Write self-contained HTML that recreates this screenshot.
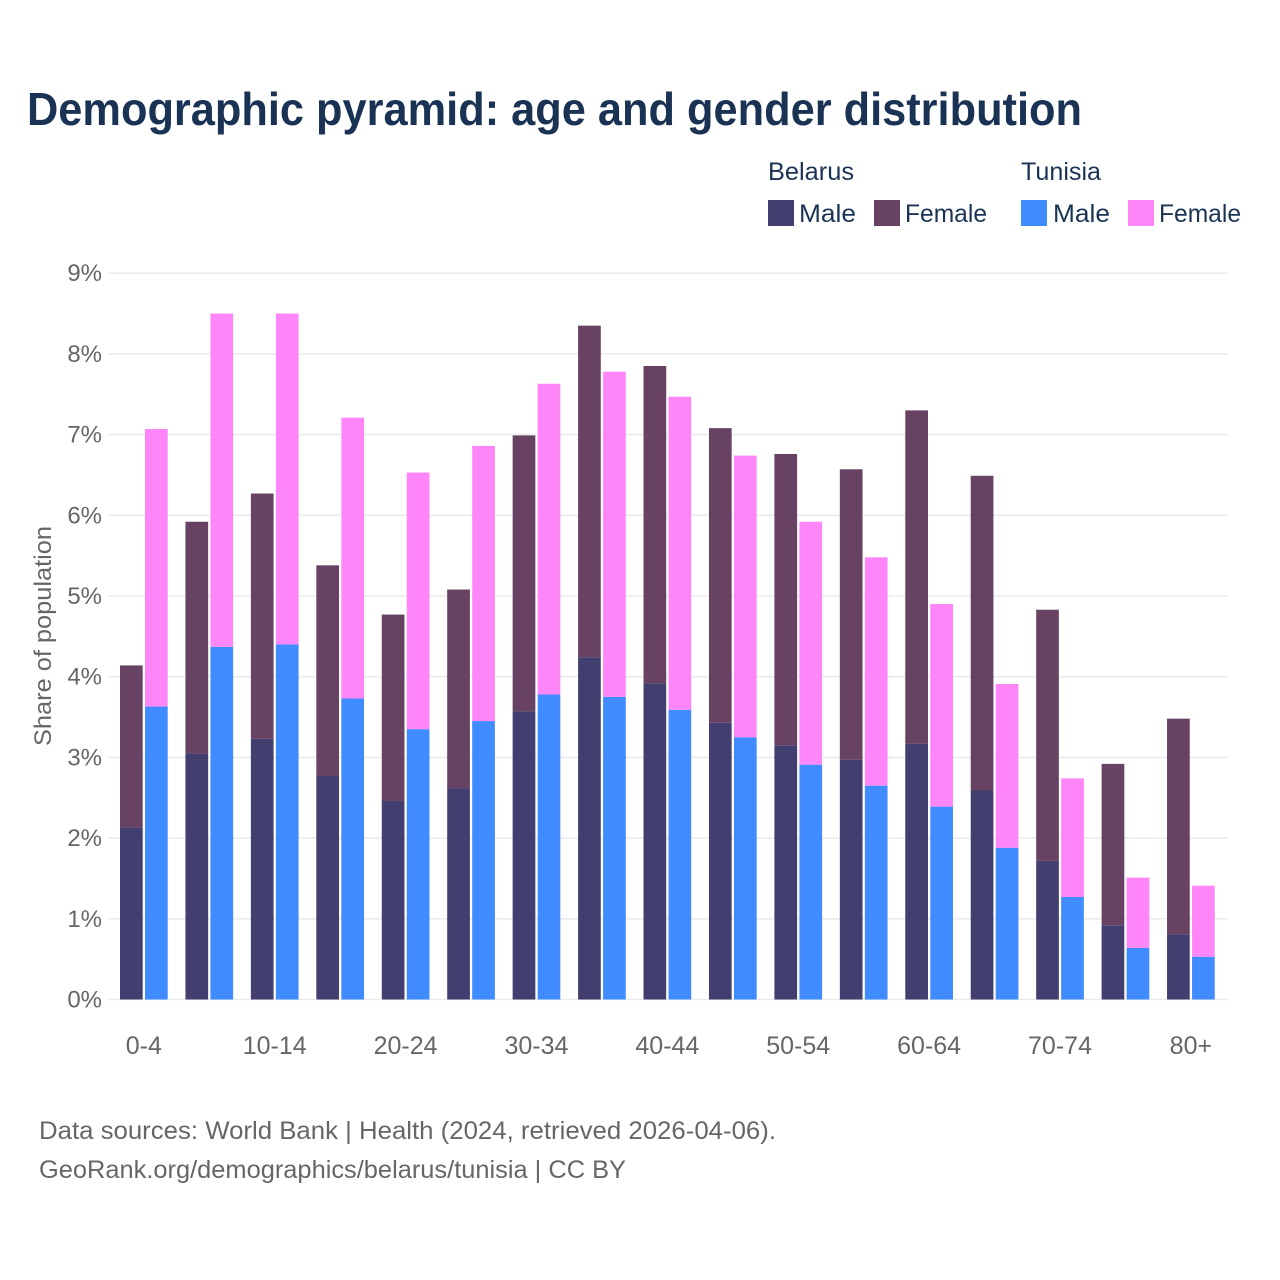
<!DOCTYPE html>
<html lang="en">
<head>
<meta charset="utf-8">
<title>Demographic pyramid</title>
<style>
  html,body{margin:0;padding:0;background:#fff;}
  svg{display:block;font-family:"Liberation Sans",sans-serif;}
</style>
</head>
<body>
<svg id="chart" xmlns="http://www.w3.org/2000/svg" width="1280" height="1280" viewBox="0 0 1280 1280">
  <rect x="0" y="0" width="1280" height="1280" fill="#ffffff"/>
  <text x="27" y="125" font-size="46" font-weight="700" fill="#1a3355" textLength="1055" lengthAdjust="spacingAndGlyphs">Demographic pyramid: age and gender distribution</text>

  <g font-size="25" fill="#1a3355">
    <text x="768" y="180" textLength="86" lengthAdjust="spacingAndGlyphs">Belarus</text>
    <text x="1021" y="180" textLength="80" lengthAdjust="spacingAndGlyphs">Tunisia</text>
    <rect x="768" y="200" width="26" height="26" fill="#433e70"/>
    <text x="799" y="222" textLength="57" lengthAdjust="spacingAndGlyphs">Male</text>
    <rect x="874" y="200" width="26" height="26" fill="#674262"/>
    <text x="905" y="222" textLength="82" lengthAdjust="spacingAndGlyphs">Female</text>
    <rect x="1021" y="200" width="26" height="26" fill="#3f8bff"/>
    <text x="1053" y="222" textLength="57" lengthAdjust="spacingAndGlyphs">Male</text>
    <rect x="1128" y="200" width="26" height="26" fill="#ff86f9"/>
    <text x="1159" y="222" textLength="82" lengthAdjust="spacingAndGlyphs">Female</text>
  </g>

  <g id="grid"></g>
  <g id="y-ticks"></g>
  <g id="bars"></g>
  <g id="x-ticks"></g>

  <text transform="translate(51,636) rotate(-90)" text-anchor="middle" font-size="24" fill="#666666" textLength="220" lengthAdjust="spacingAndGlyphs">Share of population</text>

  <text x="39" y="1139" font-size="25" fill="#666666" textLength="737" lengthAdjust="spacingAndGlyphs">Data sources: World Bank | Health (2024, retrieved 2026-04-06).</text>
  <text x="39" y="1178" font-size="25" fill="#666666" textLength="587" lengthAdjust="spacingAndGlyphs">GeoRank.org/demographics/belarus/tunisia | CC BY</text>
</svg>
<script>
const categories = ["0-4","5-9","10-14","15-19","20-24","25-29","30-34","35-39","40-44","45-49","50-54","55-59","60-64","65-69","70-74","75-79","80+"];
const belarusMale = [2.13,3.05,3.23,2.77,2.46,2.62,3.57,4.24,3.92,3.43,3.15,2.97,3.17,2.59,1.72,0.92,0.81];
const belarusFemale = [2.01,2.87,3.04,2.61,2.31,2.46,3.42,4.11,3.93,3.65,3.61,3.60,4.13,3.90,3.11,2.00,2.67];
const tunisiaMale = [3.63,4.37,4.40,3.73,3.35,3.45,3.78,3.75,3.59,3.25,2.91,2.65,2.39,1.88,1.27,0.64,0.53];
const tunisiaFemale = [3.44,4.13,4.10,3.48,3.18,3.41,3.85,4.03,3.88,3.49,3.01,2.83,2.51,2.03,1.47,0.87,0.88];
const yTickValues = [0,1,2,3,4,5,6,7,8,9];
const yTickLabels = ["0%","1%","2%","3%","4%","5%","6%","7%","8%","9%"];

const NS = "http://www.w3.org/2000/svg";
const plotLeft = 108, plotRight = 1228;
const firstBarX = 120, groupStep = 65.44, barWidth = 22.7, barOffset = 25;
const y0 = 999.5, yPerUnit = 80.7;

function yScale(v){ return y0 - v * yPerUnit; }
function xScale(i){ return firstBarX + i * groupStep; }

const gridG = document.getElementById("grid");
const yG = document.getElementById("y-ticks");
const barsG = document.getElementById("bars");
const xG = document.getElementById("x-ticks");

yTickValues.forEach(function(v, i){
  const line = document.createElementNS(NS, "line");
  
  
  line.setAttribute("x1", plotLeft);
  line.setAttribute("x2", plotRight);
  line.setAttribute("y1", yScale(v));
  line.setAttribute("y2", yScale(v));
  line.setAttribute("stroke", "#ebebeb");
  line.setAttribute("stroke-width", "1.6");
  gridG.appendChild(line);

  const t = document.createElementNS(NS, "text");
  
  
  t.setAttribute("x", 102);
  t.setAttribute("y", yScale(v) + 8);
  t.setAttribute("text-anchor", "end");
  t.setAttribute("font-size", "24");
  t.setAttribute("fill", "#666666");
  t.textContent = yTickLabels[i];
  yG.appendChild(t);
});

function addBar(x, base, value, color){
  const r = document.createElementNS(NS, "rect");
  
  
  r.setAttribute("x", x);
  r.setAttribute("y", yScale(base + value));
  r.setAttribute("width", barWidth);
  r.setAttribute("height", yScale(base) - yScale(base + value));
  r.setAttribute("fill", color);
  barsG.appendChild(r);
}

categories.forEach(function(cat, i){
  const x = xScale(i);
  addBar(x, 0, belarusMale[i], "#433e70");
  addBar(x, belarusMale[i], belarusFemale[i], "#674262");
  addBar(x + barOffset, 0, tunisiaMale[i], "#3f8bff");
  addBar(x + barOffset, tunisiaMale[i], tunisiaFemale[i], "#ff86f9");
  if (i % 2 === 0) {
    const t = document.createElementNS(NS, "text");
    
    
    t.setAttribute("x", x + (barOffset + barWidth) / 2);
    t.setAttribute("y", 1054);
    t.setAttribute("text-anchor", "middle");
    t.setAttribute("font-size", "25");
    t.setAttribute("fill", "#666666");
    t.textContent = cat;
    xG.appendChild(t);
  }
});
</script>
</body>
</html>
